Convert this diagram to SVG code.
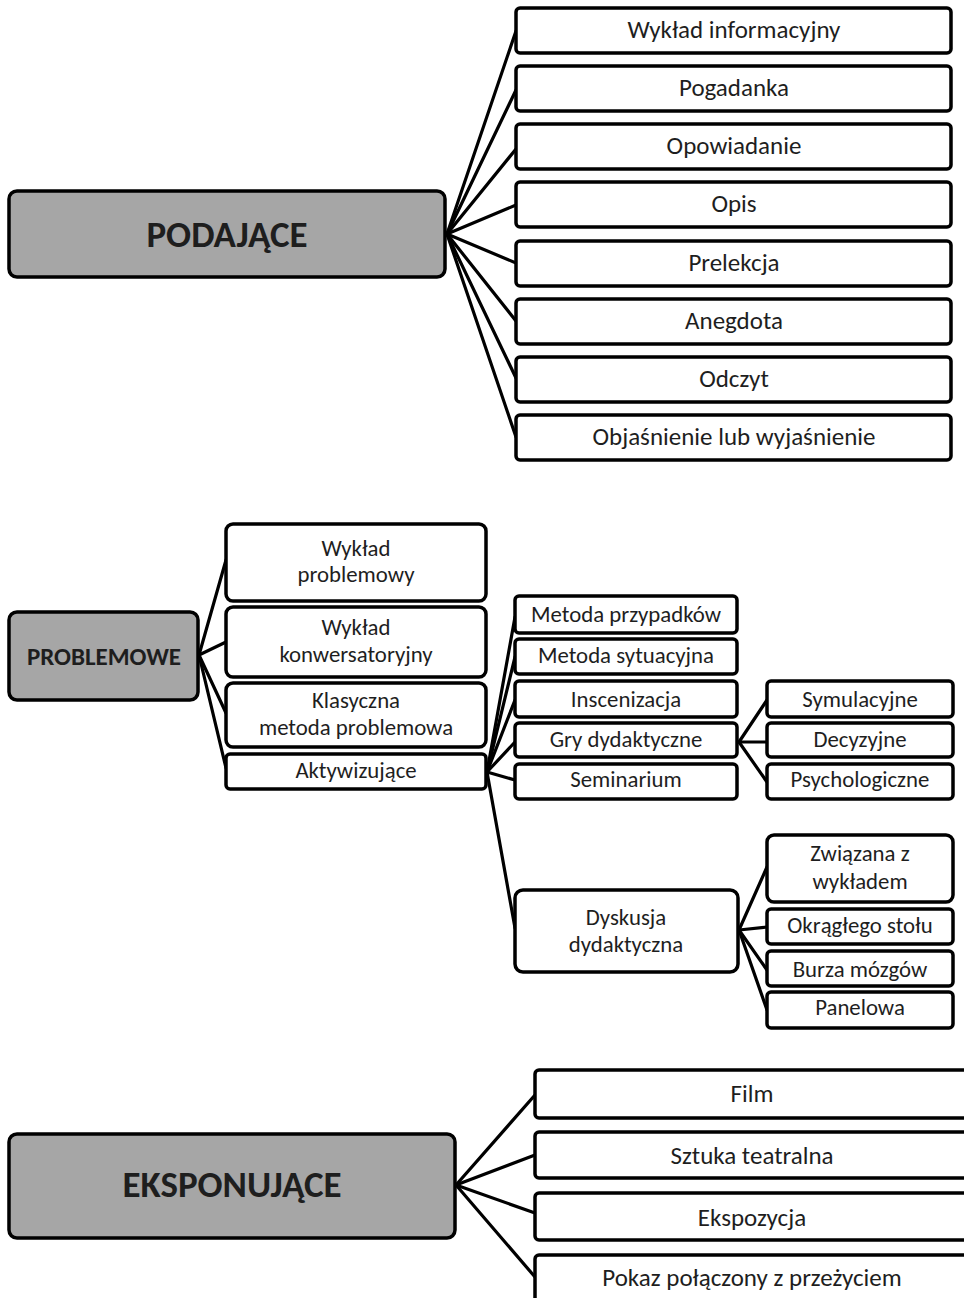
<svg xmlns="http://www.w3.org/2000/svg" width="964" height="1298" viewBox="0 0 964 1298">
<style>
  .hub { fill: #a6a6a6; stroke: #000; stroke-width: 3.5; }
  .leaf { fill: #fff; stroke: #000; stroke-width: 3.5; }
  .t { font-family: Carlito, Lato, "Open Sans", sans-serif; fill: #1e1e1e; text-anchor: middle; }
  .big { font-size: 25px; }
  .mid { font-size: 22.8px; }
  .hb { font-weight: bold; font-size: 37px; }
  .hs { font-weight: bold; font-size: 25px; }
  .con line { stroke: #000; stroke-width: 3.2; stroke-linecap: round; }
</style>
<rect width="964" height="1298" fill="#fff"/>

<g class="con" id="connectors">
  <line x1="447" y1="234" x2="516" y2="31"/>
  <line x1="447" y1="234" x2="516" y2="90"/>
  <line x1="447" y1="234" x2="516" y2="149"/>
  <line x1="447" y1="234" x2="516" y2="205"/>
  <line x1="447" y1="234" x2="516" y2="263"/>
  <line x1="447" y1="234" x2="516" y2="321"/>
  <line x1="447" y1="234" x2="516" y2="378"/>
  <line x1="447" y1="234" x2="516" y2="437"/>
  <line x1="199" y1="655" x2="226" y2="560"/>
  <line x1="199" y1="655" x2="226" y2="642"/>
  <line x1="199" y1="655" x2="226" y2="713"/>
  <line x1="199" y1="655" x2="226" y2="768"/>
  <line x1="487" y1="772" x2="515" y2="617"/>
  <line x1="487" y1="772" x2="515" y2="657"/>
  <line x1="487" y1="772" x2="515" y2="700"/>
  <line x1="487" y1="772" x2="515" y2="742"/>
  <line x1="487" y1="772" x2="515" y2="780"/>
  <line x1="487" y1="772" x2="515" y2="928"/>
  <line x1="739" y1="742" x2="767" y2="700"/>
  <line x1="739" y1="742" x2="767" y2="742"/>
  <line x1="739" y1="742" x2="767" y2="782"/>
  <line x1="739" y1="930" x2="767" y2="867"/>
  <line x1="739" y1="930" x2="767" y2="927"/>
  <line x1="739" y1="930" x2="767" y2="970"/>
  <line x1="739" y1="930" x2="767" y2="1010"/>
  <line x1="456" y1="1185" x2="535" y2="1095"/>
  <line x1="456" y1="1185" x2="535" y2="1155"/>
  <line x1="456" y1="1185" x2="535" y2="1213"/>
  <line x1="456" y1="1185" x2="535" y2="1277"/>
</g>

<g id="podajace">
  <rect class="hub" x="9" y="191" width="436" height="86" rx="8"/>
  <text class="t hb" x="227" y="247">PODAJĄCE</text>
</g>
<g id="p1"><rect class="leaf" x="516" y="8" width="435" height="45" rx="4"/><text class="t big" x="734" y="38">Wykład informacyjny</text></g>
<g id="p2"><rect class="leaf" x="516" y="66" width="435" height="45" rx="4"/><text class="t big" x="734" y="96">Pogadanka</text></g>
<g id="p3"><rect class="leaf" x="516" y="124" width="435" height="45" rx="4"/><text class="t big" x="734" y="154">Opowiadanie</text></g>
<g id="p4"><rect class="leaf" x="516" y="182" width="435" height="45" rx="4"/><text class="t big" x="734" y="212">Opis</text></g>
<g id="p5"><rect class="leaf" x="516" y="241" width="435" height="45" rx="4"/><text class="t big" x="734" y="271">Prelekcja</text></g>
<g id="p6"><rect class="leaf" x="516" y="299" width="435" height="45" rx="4"/><text class="t big" x="734" y="329">Anegdota</text></g>
<g id="p7"><rect class="leaf" x="516" y="357" width="435" height="45" rx="4"/><text class="t big" x="734" y="387">Odczyt</text></g>
<g id="p8"><rect class="leaf" x="516" y="415" width="435" height="45" rx="4"/><text class="t big" x="734" y="445">Objaśnienie lub wyjaśnienie</text></g>

<g id="problemowe">
  <rect class="hub" x="9" y="612" width="189" height="88" rx="8"/>
  <text class="t hs" x="104" y="665">PROBLEMOWE</text>
</g>
<g id="m1"><rect class="leaf" x="226" y="524" width="260" height="77" rx="7"/>
  <text class="t mid" x="356" y="556">Wykład</text><text class="t mid" x="356" y="582">problemowy</text></g>
<g id="m2"><rect class="leaf" x="226" y="607" width="260" height="70" rx="7"/>
  <text class="t mid" x="356" y="635">Wykład</text><text class="t mid" x="356" y="662">konwersatoryjny</text></g>
<g id="m3"><rect class="leaf" x="226" y="683" width="260" height="64" rx="7"/>
  <text class="t mid" x="356" y="708">Klasyczna</text><text class="t mid" x="356" y="735">metoda problemowa</text></g>
<g id="m4"><rect class="leaf" x="226" y="754" width="260" height="35" rx="4"/>
  <text class="t mid" x="356" y="778">Aktywizujące</text></g>

<g id="a1"><rect class="leaf" x="515" y="596" width="222" height="37" rx="4"/><text class="t mid" x="626" y="622">Metoda przypadków</text></g>
<g id="a2"><rect class="leaf" x="515" y="639" width="222" height="35" rx="4"/><text class="t mid" x="626" y="663">Metoda sytuacyjna</text></g>
<g id="a3"><rect class="leaf" x="515" y="681" width="222" height="36" rx="4"/><text class="t mid" x="626" y="707">Inscenizacja</text></g>
<g id="a4"><rect class="leaf" x="515" y="723" width="222" height="34" rx="4"/><text class="t mid" x="626" y="747">Gry dydaktyczne</text></g>
<g id="a5"><rect class="leaf" x="515" y="764" width="222" height="35" rx="4"/><text class="t mid" x="626" y="787">Seminarium</text></g>

<g id="g1"><rect class="leaf" x="767" y="681" width="186" height="36" rx="4"/><text class="t mid" x="860" y="707">Symulacyjne</text></g>
<g id="g2"><rect class="leaf" x="767" y="723" width="186" height="34" rx="4"/><text class="t mid" x="860" y="747">Decyzyjne</text></g>
<g id="g3"><rect class="leaf" x="767" y="764" width="186" height="35" rx="4"/><text class="t mid" x="860" y="787">Psychologiczne</text></g>

<g id="dyskusja"><rect class="leaf" x="515" y="890" width="223" height="82" rx="8"/>
  <text class="t mid" x="626" y="925">Dyskusja</text><text class="t mid" x="626" y="952">dydaktyczna</text></g>

<g id="d1"><rect class="leaf" x="767" y="835" width="186" height="67" rx="7"/>
  <text class="t mid" x="860" y="861">Związana z</text><text class="t mid" x="860" y="889">wykładem</text></g>
<g id="d2"><rect class="leaf" x="767" y="909" width="186" height="35" rx="4"/><text class="t mid" x="860" y="933">Okrągłego stołu</text></g>
<g id="d3"><rect class="leaf" x="767" y="951" width="186" height="35" rx="4"/><text class="t mid" x="860" y="977">Burza mózgów</text></g>
<g id="d4"><rect class="leaf" x="767" y="992" width="186" height="36" rx="4"/><text class="t mid" x="860" y="1015">Panelowa</text></g>

<g id="eksponujace">
  <rect class="hub" x="9" y="1134" width="446" height="104" rx="8"/>
  <text class="t hb" x="232" y="1197">EKSPONUJĄCE</text>
</g>
<g id="e1"><rect class="leaf" x="535" y="1070" width="440" height="48" rx="4"/><text class="t big" x="752" y="1102">Film</text></g>
<g id="e2"><rect class="leaf" x="535" y="1132" width="440" height="46" rx="4"/><text class="t big" x="752" y="1164">Sztuka teatralna</text></g>
<g id="e3"><rect class="leaf" x="535" y="1193" width="440" height="47" rx="4"/><text class="t big" x="752" y="1226">Ekspozycja</text></g>
<g id="e4"><rect class="leaf" x="535" y="1255" width="440" height="60" rx="4"/><text class="t big" x="752" y="1286">Pokaz połączony z przeżyciem</text></g>
</svg>
